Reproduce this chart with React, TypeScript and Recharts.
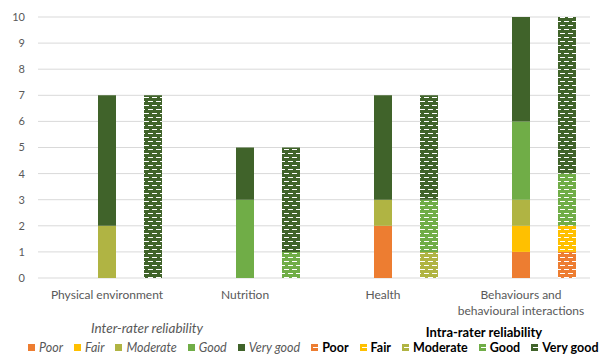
import React from "react"
import { Bar, BarChart, CartesianGrid, XAxis, YAxis } from "recharts"

const categories = [
  "Physical environment",
  "Nutrition",
  "Health",
  "Behaviours and\nbehavioural interactions",
]
const levels = ["Poor", "Fair", "Moderate", "Good", "Very good"]
const colors = ["#ED7D31", "#FFC000", "#B0B443", "#70AD47", "#40632A"]

// inter-rater reliability (solid)
const interPoor = [0, 0, 2, 1]
const interFair = [0, 0, 0, 1]
const interModerate = [2, 0, 1, 1]
const interGood = [0, 3, 0, 3]
const interVeryGood = [5, 2, 4, 4]

// intra-rater reliability (dashed pattern)
const intraPoor = [0, 0, 0, 1]
const intraFair = [0, 0, 0, 1]
const intraModerate = [0, 0, 1, 0]
const intraGood = [0, 1, 2, 2]
const intraVeryGood = [7, 4, 4, 6]

const yTicks = [0, 1, 2, 3, 4, 5, 6, 7, 8, 9, 10]

const inter = [interPoor, interFair, interModerate, interGood, interVeryGood]
const intra = [intraPoor, intraFair, intraModerate, intraGood, intraVeryGood]

const data = categories.map((name, i) => {
  const row: Record<string, string | number> = { name }
  levels.forEach((lvl, j) => {
    row["inter" + j] = inter[j][i]
    row["intra" + j] = intra[j][i]
  })
  return row
})

const FONT = "Lato, 'Liberation Sans', sans-serif"

function CategoryTick(props: any) {
  const { x, y, payload } = props
  const lines = String(payload.value).split("\n")
  return (
    <text x={x} y={y} textAnchor="middle" fill="#595959" fontSize={12} fontFamily={FONT}>
      {lines.map((l, i) => (
        <tspan key={i} x={x} dy={i === 0 ? 13 : 16}>
          {l}
        </tspan>
      ))}
    </text>
  )
}

function LegendItem({ i, intraStyle }: { i: number; intraStyle: boolean }) {
  return (
    <span style={{ display: "inline-flex", alignItems: "center", marginRight: 11 }}>
      <span
        style={{
          position: "relative",
          display: "inline-block",
          width: 7,
          height: 7,
          background: colors[i],
          marginRight: 4,
        }}
      >
        {intraStyle && (
          <span
            style={{
              position: "absolute",
              left: 2,
              top: 3,
              width: 5,
              height: 1,
              background: "#fff",
            }}
          />
        )}
      </span>
      <span
        style={{
          fontStyle: intraStyle ? "normal" : "italic",
          fontWeight: intraStyle ? 700 : 400,
          color: intraStyle ? "#000" : "#595959",
        }}
      >
        {levels[i]}
      </span>
    </span>
  )
}

export default function App() {
  return (
    <div style={{ position: "absolute", left: 0, top: 0, width: 611, height: 358, background: "#fff", fontFamily: FONT }}>
      <BarChart width={611} height={358} data={data} margin={{ top: 17, right: 21, bottom: 40, left: 8 }}>
        <defs>
          {colors.map((c, i) => (
            <pattern key={i} id={"dash" + i} width={8} height={8} patternUnits="userSpaceOnUse">
              <rect width={8} height={8} fill={c} />
              <rect x={0} y={1} width={5} height={1} fill="#fff" />
              <rect x={4} y={5} width={5} height={1} fill="#fff" />
              <rect x={-4} y={5} width={5} height={1} fill="#fff" />
            </pattern>
          ))}
        </defs>
        <CartesianGrid vertical={false} stroke="#d9d9d9" />
        <XAxis
          xAxisId="inter"
          dataKey="name"
          height={40}
          axisLine={false}
          tickLine={false}
          tick={<CategoryTick />}
          interval={0}
        />
        <XAxis xAxisId="intra" dataKey="name" hide height={0} padding={{ left: 46, right: -46 }} />
        <YAxis
          width={30}
          domain={[0, 10]}
          ticks={yTicks}
          axisLine={false}
          tickLine={false}
          tickMargin={7}
          tick={{ fill: "#595959", fontSize: 11, fontFamily: FONT }}
        />
        {levels.map((lvl, j) => (
          <Bar
            key={"inter" + j}
            xAxisId="inter"
            dataKey={"inter" + j}
            stackId="inter"
            name={lvl}
            fill={colors[j]}
            barSize={18}
            isAnimationActive={false}
          />
        ))}
        {levels.map((lvl, j) => (
          <Bar
            key={"intra" + j}
            xAxisId="intra"
            dataKey={"intra" + j}
            stackId="intra"
            name={lvl}
            fill={`url(#dash${j})`}
            barSize={18}
            isAnimationActive={false}
          />
        ))}
      </BarChart>
      <div
        style={{
          position: "absolute",
          left: 47,
          width: 200,
          top: 320,
          textAlign: "center",
          fontStyle: "italic",
          color: "#595959",
          fontSize: 13.5,
        }}
      >
        Inter-rater reliability
      </div>
      <div
        style={{
          position: "absolute",
          left: 384,
          width: 200,
          top: 324,
          textAlign: "center",
          fontWeight: 700,
          color: "#000",
          fontSize: 13,
        }}
      >
        Intra-rater reliability
      </div>
      <div
        style={{
          position: "absolute",
          left: 28,
          top: 340,
          fontSize: 12.5,
          whiteSpace: "nowrap",
          display: "flex",
          alignItems: "center",
        }}
      >
        {levels.map((_, i) => (
          <LegendItem key={"a" + i} i={i} intraStyle={false} />
        ))}
        {levels.map((_, i) => (
          <LegendItem key={"b" + i} i={i} intraStyle={true} />
        ))}
      </div>
    </div>
  )
}
